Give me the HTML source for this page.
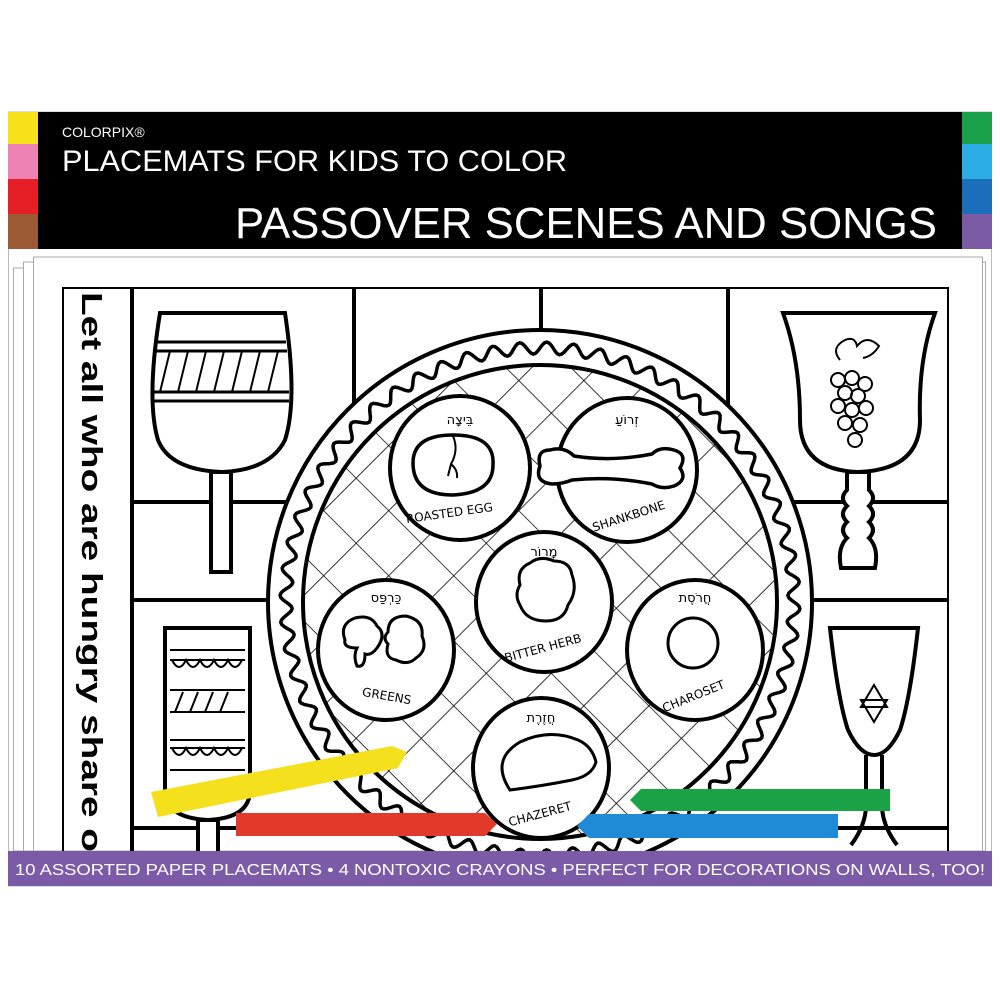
<!DOCTYPE html>
<html><head><meta charset="utf-8"><style>
html,body{margin:0;padding:0;background:#fff;width:1000px;height:1000px;overflow:hidden}
svg{display:block}
</style></head><body>
<svg width="1000" height="1000" viewBox="0 0 1000 1000" xmlns="http://www.w3.org/2000/svg" font-family="Liberation Sans, DejaVu Sans, sans-serif">
<defs>
<clipPath id="frame"><rect x="62" y="287" width="887" height="564"/></clipPath>
<clipPath id="inner"><circle cx="540" cy="602" r="236"/></clipPath>
<pattern id="lat" width="46" height="46" patternUnits="userSpaceOnUse" patternTransform="rotate(45 540 602)">
<path d="M0 0H46M0 0V46" stroke="#000" stroke-width="1.6" fill="none"/></pattern>
</defs>
<!-- paper stack -->
<rect x="8.5" y="112" width="983" height="774" fill="#fff" stroke="#bbb"/>
<rect x="13.5" y="268" width="970" height="583" fill="#fff" stroke="#aaa"/>
<rect x="23.5" y="262" width="962" height="589" fill="#fff" stroke="#aaa"/>
<rect x="33.5" y="257" width="949" height="594" fill="#fff" stroke="#aaa"/>
<!-- header -->
<rect x="8" y="112" width="984" height="137" fill="#000"/>
<rect x="8" y="112" width="30" height="32" fill="#f7e21a"/>
<rect x="8" y="144" width="30" height="35" fill="#ef82b4"/>
<rect x="8" y="179" width="30" height="35" fill="#e61e26"/>
<rect x="8" y="214" width="30" height="35" fill="#9b5a34"/>
<rect x="962" y="112" width="30" height="32" fill="#1aa04a"/>
<rect x="962" y="144" width="30" height="35" fill="#2caee4"/>
<rect x="962" y="179" width="30" height="35" fill="#1b6fba"/>
<rect x="962" y="214" width="30" height="35" fill="#7b5aa6"/>
<text x="62" y="137" fill="#fff" font-size="14">COLORPIX®</text>
<text x="62" y="171" fill="#fff" font-size="30" textLength="505" lengthAdjust="spacingAndGlyphs">PLACEMATS FOR KIDS TO COLOR</text>
<text x="235" y="238" fill="#fff" font-size="44" textLength="702" lengthAdjust="spacingAndGlyphs">PASSOVER SCENES AND SONGS</text>

<!-- drawing -->
<g clip-path="url(#frame)" stroke="#000" fill="none" stroke-width="4">
<rect x="62" y="287" width="887" height="600"/>
<line x1="132" y1="287" x2="132" y2="860"/>
<line x1="354" y1="287" x2="354" y2="420"/>
<line x1="541" y1="287" x2="541" y2="340"/>
<line x1="728" y1="287" x2="728" y2="420"/>
<line x1="132" y1="502" x2="300" y2="502"/>
<line x1="790" y1="502" x2="949" y2="502"/>
<line x1="132" y1="600" x2="275" y2="600"/>
<line x1="810" y1="600" x2="949" y2="600"/>
<line x1="132" y1="828" x2="300" y2="828"/>
<line x1="790" y1="828" x2="949" y2="828"/>
<!-- left wine glass -->
<path d="M160 313H285Q298 400 285 440Q270 470 222 472Q170 470 158 440Q146 400 160 313Z" fill="#fff"/>
<line x1="157" y1="342" x2="286" y2="342" stroke-width="3"/><line x1="156" y1="351" x2="287" y2="351" stroke-width="3"/>
<line x1="154" y1="392" x2="289" y2="392" stroke-width="3"/><line x1="154" y1="401" x2="289" y2="401" stroke-width="3"/>
<g stroke-width="2"><path d="M160 392L170 351M178 392L188 351M196 392L206 351M214 392L224 351M232 392L242 351M250 392L260 351M268 392L278 351"/></g>
<rect x="211" y="472" width="20" height="100" fill="#fff"/>
<!-- left beaker -->
<path d="M165 628H250V790Q250 818 208 820Q165 818 165 790Z" fill="#fff"/>
<rect x="198" y="820" width="20" height="40" fill="#fff"/>
<g stroke-width="2"><path d="M170 650H245M170 660H245M170 690H245M170 712H245M170 740H245M170 748H245M170 770H245"/>
<path d="M172 660q7 14 14 0q7 14 14 0q7 14 14 0q7 14 14 0q7 14 14 0M172 748q7 14 14 0q7 14 14 0q7 14 14 0q7 14 14 0q7 14 14 0M175 712l8-20M190 712l8-20M205 712l8-20M220 712l8-20"/></g>
<!-- right goblet -->
<path d="M783 313H935Q918 360 920 420Q920 470 858 472Q800 470 800 420Q800 360 783 313Z" fill="#fff"/>
<g stroke-width="2"><circle cx="838" cy="380" r="7"/><circle cx="852" cy="378" r="7"/><circle cx="865" cy="384" r="7"/><circle cx="845" cy="393" r="7"/><circle cx="858" cy="396" r="7"/><circle cx="838" cy="406" r="7"/><circle cx="852" cy="410" r="7"/><circle cx="866" cy="408" r="7"/><circle cx="845" cy="423" r="7"/><circle cx="860" cy="425" r="7"/><circle cx="855" cy="440" r="7"/><path d="M840 360q-10 -12 5 -20q10 -4 12 6q10-12 22 0q-6 10-16 12"/></g>
<path d="M847 472h22v18q8 8 0 16q8 8 0 16q8 8 0 16q10 10 6 30h-34q-4-20 6-30q-8-8 0-16q-8-8 0-16q-8-8 0-16z" fill="#fff"/>
<!-- right star cup -->
<path d="M830 628H918Q910 700 900 730Q888 755 874 755Q860 755 848 730Q838 700 830 628Z" fill="#fff"/>
<path d="M866 755v50q0 20-15 40M882 755v50q0 20 15 40"/>
<g stroke-width="2"><path d="M874 685l13 22h-26zM874 722l13-22h-26z"/></g>
<!-- plate -->
<circle cx="540" cy="602" r="272" fill="#fff"/>
<circle cx="540" cy="602" r="237" fill="url(#lat)" stroke-width="4"/>
<path id="wave" d="" stroke-width="3.5"/>
</g>
<g stroke="#000" stroke-width="4" fill="#fff">
<ellipse cx="460" cy="468" rx="70" ry="72"/>
<ellipse cx="627" cy="470" rx="70" ry="72"/>
<ellipse cx="544" cy="602" rx="68" ry="70"/>
<ellipse cx="386" cy="650" rx="68" ry="70"/>
<ellipse cx="695" cy="650" rx="68" ry="70"/>
<ellipse cx="541" cy="768" rx="68" ry="70"/>
<path d="M413 463q0-28 40-28q42 0 40 30q0 28-40 30q-40 0-40-32z" stroke-width="3.5"/>
<path d="M453 436q6 14-2 28l-3 12M451 464q7 6 6 14" fill="none" stroke-width="2"/>
<path d="M550 450q-14 0-10 16q-6 16 12 18q10 0 20-4q40-4 80 4q10 6 22 2q14-6 6-18q8-14-6-18q-14-4-22 4q-40 8-78 2q-10-10-24-6z" stroke-width="3.5"/>
<path d="M520 585q-4-16 10-22q10-8 24-2q16 0 18 14q6 16-4 30q-4 16-22 16q-20 0-26-16q-6-10 0-20z" stroke-width="3"/>
<path d="M345 640q-6-16 10-22q16-4 22 8q10 8 0 22q-6 8-12 6q0 14-8 12q-4-10 0-18q-14 0-12-8zM388 632q0-16 18-16q18 4 16 20q6 14-6 22q-8 8-20 2q-12-2-8-16q-6-6 0-12z" stroke-width="3"/>
<circle cx="693" cy="643" r="25" stroke-width="3"/>
<path d="M510 790q-20-30 10-48q30-14 58-2q14 6 18 22q-4 14-24 18q-30 6-62 10z" stroke-width="3"/>
</g>
<g font-size="13" fill="#000" text-anchor="middle" font-family="DejaVu Sans, sans-serif">
<text x="460" y="424">בֵּיצָה</text><text x="627" y="424">זְרוֹעַ</text><text x="544" y="556">מָרוֹר</text>
<text x="386" y="602">כַּרְפַּס</text><text x="695" y="602">חֲרֹסֶת</text><text x="541" y="722">חֲזֶרֶת</text>
<text x="450" y="517" font-size="12" transform="rotate(-8 450 517)">ROASTED EGG</text>
<text x="630" y="520" font-size="12" transform="rotate(-18 630 520)">SHANKBONE</text>
<text x="544" y="652" font-size="12" transform="rotate(-15 544 652)">BITTER HERB</text>
<text x="386" y="700" font-size="12" transform="rotate(10 386 700)">GREENS</text>
<text x="695" y="700" font-size="12" transform="rotate(-22 695 700)">CHAROSET</text>
<text x="541" y="818" font-size="12" transform="rotate(-15 541 818)">CHAZERET</text>
</g>
<text x="82" y="292" font-size="29" font-weight="bold" transform="rotate(90 82 292)" textLength="560" lengthAdjust="spacingAndGlyphs">Let all who are hungry share o</text>
<!-- crayons -->
<g>
<path d="M151 792L392 746L407 752L398 768L158 817Z" fill="#f5e01e"/>
<path d="M236 813H485L497 824L485 836H236Z" fill="#e23a2a"/>
<path d="M641 789H890V811H641L630 800Z" fill="#1ca246"/>
<path d="M589 814H838V838H589L577 826Z" fill="#1f8ad6"/>
</g>
<!-- bottom bar -->
<rect x="8" y="851" width="984" height="35" fill="#7b5aa8"/>
<text x="500" y="875" fill="#fff" font-size="16" text-anchor="middle" textLength="970" lengthAdjust="spacingAndGlyphs">10 ASSORTED PAPER PLACEMATS • 4 NONTOXIC CRAYONS • PERFECT FOR DECORATIONS ON WALLS, TOO!</text>
</svg>
<script>
(function(){var cx=540,cy=602,r=254,n=60,d="";for(var i=0;i<=720;i++){var t=i/720*2*Math.PI;var rr=r+6*Math.sin(t*n);var x=cx+rr*Math.cos(t),y=cy+rr*Math.sin(t);d+=(i?"L":"M")+x.toFixed(1)+" "+y.toFixed(1);}document.getElementById("wave").setAttribute("d",d+"Z");})();
</script>
</body></html>
